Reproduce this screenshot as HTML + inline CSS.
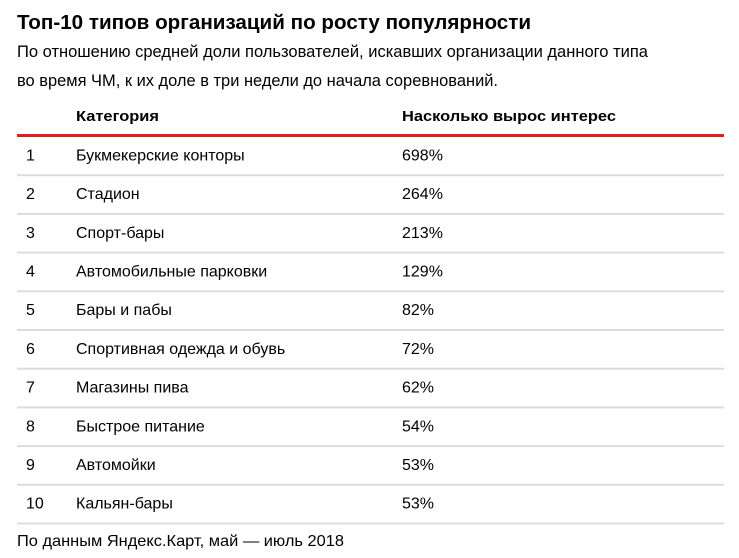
<!DOCTYPE html>
<html><head><meta charset="utf-8"><style>
html,body{margin:0;padding:0;background:#fff;}
svg{display:block;font-family:"Liberation Sans",Arial,sans-serif;}
</style></head><body>
<svg width="739" height="558" viewBox="0 0 739 558">
<text x="17" y="29" font-size="20" font-weight="bold" fill="#000" textLength="514" lengthAdjust="spacingAndGlyphs">Топ-10 типов организаций по росту популярности</text>
<text x="17" y="57" font-size="16.5" fill="#000" textLength="631" lengthAdjust="spacingAndGlyphs">По отношению средней доли пользователей, искавших организации данного типа</text>
<text x="17" y="86" font-size="16.5" fill="#000" textLength="481" lengthAdjust="spacingAndGlyphs">во время ЧМ, к их доле в три недели до начала соревнований.</text>
<text x="76" y="121" font-size="15" font-weight="bold" fill="#000" textLength="83" lengthAdjust="spacingAndGlyphs">Категория</text>
<text x="402" y="121" font-size="15" font-weight="bold" fill="#000" textLength="214" lengthAdjust="spacingAndGlyphs">Насколько вырос интерес</text>
<rect x="17" y="134" width="707" height="3" fill="#e31e1e"/>
<g id="rows"></g>
<text x="17" y="546" font-size="16" fill="#000" textLength="327" lengthAdjust="spacingAndGlyphs">По данным Яндекс.Карт, май — июль 2018</text>
</svg>
<script>
const categories=["Букмекерские конторы","Стадион","Спорт-бары","Автомобильные парковки","Бары и пабы","Спортивная одежда и обувь","Магазины пива","Быстрое питание","Автомойки","Кальян-бары"];
const values=[698,264,213,129,82,72,62,54,53,53];
const NS="http://www.w3.org/2000/svg";
const g=document.getElementById('rows');
const top0=137,rowH=38.7;
function mk(tag,attrs,txt){const e=document.createElementNS(NS,tag);for(const k in attrs)e.setAttribute(k,attrs[k]);if(txt!==undefined)e.textContent=txt;g.appendChild(e);return e;}
categories.forEach((c,i)=>{
  const cy=top0+rowH*i+rowH/2;
  const n=mk('text',{x:26,y:cy+4,'font-size':16,fill:'#000'},String(i+1));
  
  
  const t=mk('text',{x:76,y:cy+4,'font-size':16,fill:'#000'},c);
  
  
  const v=mk('text',{x:402,y:cy+4,'font-size':16,fill:'#000'},values[i]+'%');
  
  
  const s=mk('rect',{x:17,y:top0+rowH*(i+1)-1.5,width:707,height:2,fill:'#dcdcdc'});
  
  
});
</script>
</body></html>
